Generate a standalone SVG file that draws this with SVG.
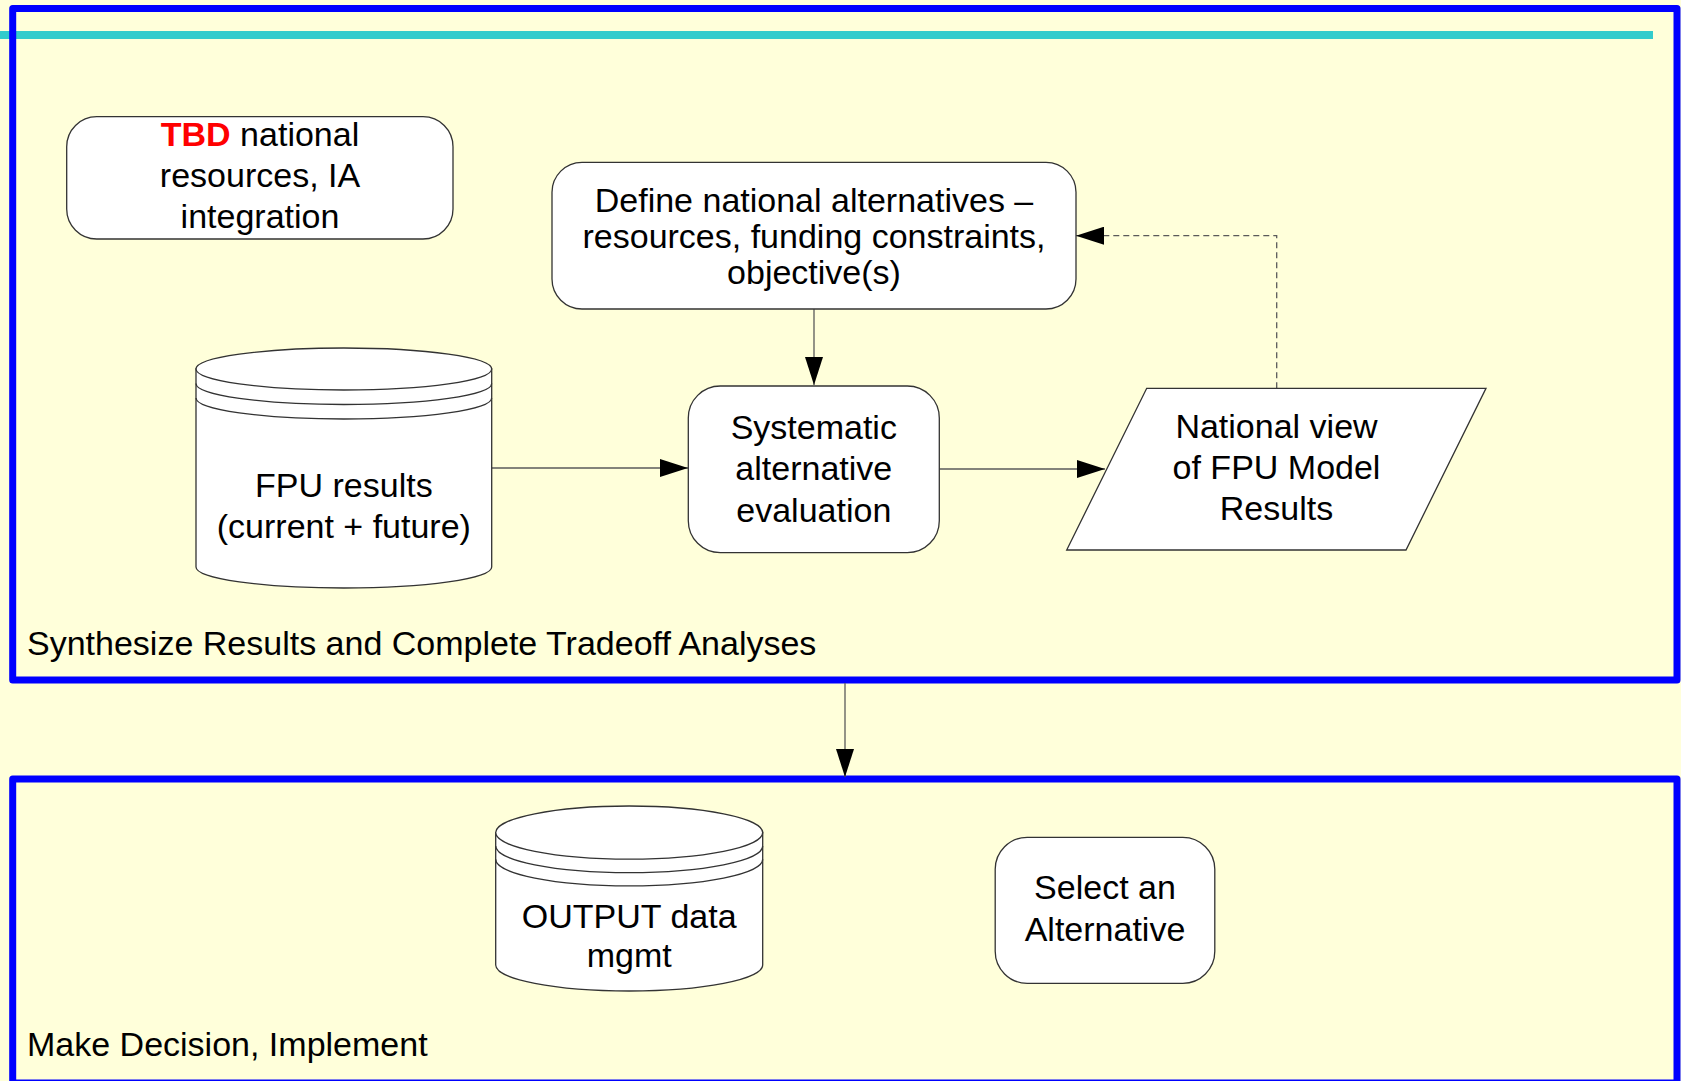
<svg xmlns="http://www.w3.org/2000/svg" width="1681" height="1081" viewBox="0 0 1681 1081">
<style>
text{font-family:"Liberation Sans",Arial,sans-serif;font-size:34px;fill:#000}
.node{fill:#fff;stroke:#333;stroke-width:1.3}
.frame{fill:none;stroke:#0000ff;stroke-width:7;stroke-linejoin:round}
.conn{fill:none;stroke:#5a5a5a;stroke-width:1.3}
.band{fill:none;stroke:#333;stroke-width:1.3}
.dash{stroke-dasharray:6,4}
.c{text-anchor:middle}
</style>
<defs>
<marker id="arr" viewBox="0 0 28 18" refX="28" refY="9" markerWidth="28" markerHeight="18" orient="auto" markerUnits="userSpaceOnUse">
<path d="M0,0 L28,9 L0,18 Z" fill="#000" stroke="none"/>
</marker>
</defs>
<rect x="0" y="0" width="1681" height="1081" fill="#ffffda"/>
<rect x="0" y="31" width="1653" height="8" fill="#33cccc"/>
<g id="frame-synthesize">
<rect class="frame" x="12.7" y="8.5" width="1664.3" height="671.5"/>
<text x="27" y="655">Synthesize Results and Complete Tradeoff Analyses</text>
</g>
<g id="frame-decision">
<rect class="frame" x="12.7" y="779" width="1664.3" height="304"/>
<text x="27" y="1056">Make Decision, Implement</text>
</g>
<g id="connectors">
<path class="conn" d="M814,309 V385" marker-end="url(#arr)"/>
<path class="conn" d="M491.7,468 H688" marker-end="url(#arr)"/>
<path class="conn" d="M939.3,469 H1105" marker-end="url(#arr)"/>
<path class="conn dash" d="M1276.7,388.3 V235.7 H1076" marker-end="url(#arr)"/>
<path class="conn" d="M845,683 V777" marker-end="url(#arr)"/>
</g>
<g id="node-tbd">
<rect class="node" x="66.7" y="116.7" width="386.3" height="122.3" rx="30" ry="30"/>
<text class="c" x="260" y="146"><tspan font-weight="bold" style="fill:#ff0000">TBD</tspan> national</text>
<text class="c" x="260" y="187">resources, IA</text>
<text class="c" x="260" y="228">integration</text>
</g>
<g id="node-define">
<rect class="node" x="552" y="162.3" width="524" height="146.7" rx="30" ry="30"/>
<text class="c" x="814" y="211.5">Define national alternatives –</text>
<text class="c" x="814" y="248">resources, funding constraints,</text>
<text class="c" x="814" y="284">objective(s)</text>
</g>
<g id="node-fpu">
<path class="node" d="M196,369 L196,567 A147.85,21 0 0 0 491.7,567 L491.7,369 Z"/>
<ellipse class="node" cx="343.85" cy="369" rx="147.85" ry="21"/>
<path class="band" d="M196,383.5 A147.85,21 0 0 0 491.7,383.5 M196,398 A147.85,21 0 0 0 491.7,398"/>
<text class="c" x="343.85" y="497">FPU results</text>
<text class="c" x="343.85" y="538">(current + future)</text>
</g>
<g id="node-systematic">
<rect class="node" x="688.3" y="386" width="251" height="166.7" rx="32" ry="32"/>
<text class="c" x="813.8" y="439">Systematic</text>
<text class="c" x="813.8" y="480">alternative</text>
<text class="c" x="813.8" y="521.7">evaluation</text>
</g>
<g id="node-national">
<path class="node" d="M1146.7,388.3 L1486,388.3 L1406,550 L1066.7,550 Z"/>
<text class="c" x="1276.5" y="438.3">National view</text>
<text class="c" x="1276.5" y="479.3">of FPU Model</text>
<text class="c" x="1276.5" y="520">Results</text>
</g>
<g id="node-output">
<path class="node" d="M495.7,832.6 L495.7,965 A133.5,26 0 0 0 762.7,965 L762.7,832.6 Z"/>
<ellipse class="node" cx="629.2" cy="832.6" rx="133.5" ry="26.6"/>
<path class="band" d="M495.7,846 A133.5,26.6 0 0 0 762.7,846 M495.7,859.3 A133.5,26.6 0 0 0 762.7,859.3"/>
<text class="c" x="629.2" y="928.3">OUTPUT data</text>
<text class="c" x="629.2" y="966.7">mgmt</text>
</g>
<g id="node-select">
<rect class="node" x="995.2" y="837.3" width="219.6" height="146" rx="32" ry="32"/>
<text class="c" x="1105" y="899.3">Select an</text>
<text class="c" x="1105" y="940.7">Alternative</text>
</g>
</svg>
